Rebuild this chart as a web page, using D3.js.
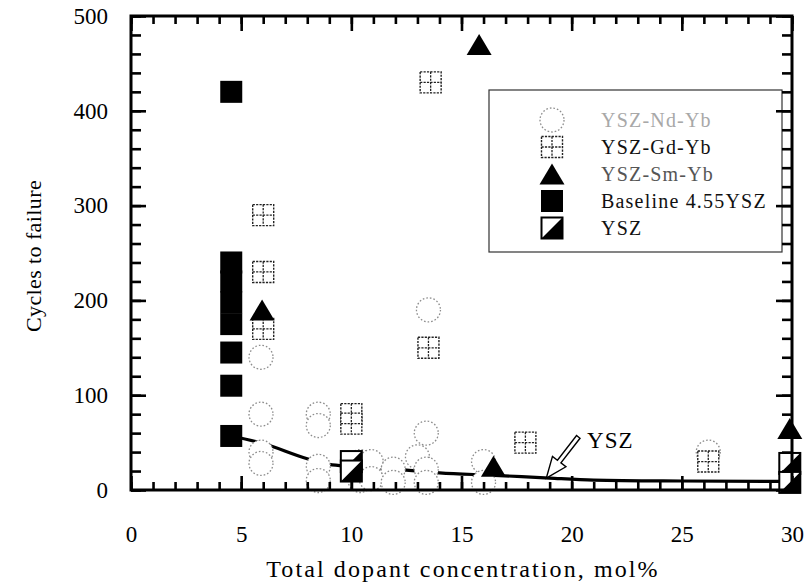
<!DOCTYPE html>
<html>
<head>
<meta charset="utf-8">
<script src="https://cdn.jsdelivr.net/npm/d3@7"></script>
<style>
  html, body { margin: 0; padding: 0; background: #fff; }
  svg { display: block; }
  text { font-family: "Liberation Serif", "Times New Roman", serif; }
</style>
</head>
<body>
<svg id="chart" width="806" height="588"></svg>
<script>
// Thermal cycling life vs. total dopant concentration
const xTicks = [0, 5, 10, 15, 20, 25, 30];
const yTicks = [0, 100, 200, 300, 400, 500];

// [dopant mol%, cycles to failure]
const ndYb = [[5.9,140],[5.9,80],[5.9,40],[5.9,28],[8.5,80],[8.5,68],[8.5,25],[8.5,10],
              [10.4,30],[10.4,10],[10.9,30],[10.9,12],[11.9,22],[11.9,8],[13.0,35],
              [13.4,60],[13.4,22],[13.4,8],[13.5,190],[16.0,30],[16.0,8],[26.2,40]];
const gdYb = [[6.0,290],[6.0,230],[6.0,170],[13.6,430],[13.5,150],[10.0,80],[10.0,70],
              [17.9,50],[26.2,30]];
const smYb = [[15.8,470],[5.95,190],[16.45,25],[29.9,65]];
const baseline = [[4.55,420],[4.55,240],[4.55,220],[4.55,198],[4.55,175],[4.55,145],
                  [4.55,110],[4.55,57]];
const ysz = [[10.0,30],[10.0,20],[29.9,28],[29.9,8]];
// YSZ trend curve
const yszTrend = [[4.55,57],[6,49],[8,33],[9,27],[10,25],[12,22],[14,18],[16.5,15.5],
                  [19,12.5],[21,10.5],[25,9.5],[30,9]];
// arrow annotation: label anchor, tail, tip
const yszNote = {label: "YSZ", at: [20.7, 44], tail: [20.3, 56], tip: [18.85, 12.5]};

const legendItems = [
  {name: "YSZ-Nd-Yb", kind: "circle", color: "#a8a8a8"},
  {name: "YSZ-Gd-Yb", kind: "grid", color: "#111"},
  {name: "YSZ-Sm-Yb", kind: "triangle", color: "#555"},
  {name: "Baseline 4.55YSZ", kind: "square", color: "#111"},
  {name: "YSZ", kind: "half", color: "#111"}
];

const svg = d3.select("#chart");
const x = d3.scaleLinear().domain([0, 30]).range([131, 792]);
const y = d3.scaleLinear().domain([0, 500]).range([490, 16]);

// ---------- marker drawing helpers ----------
function drawCircle(g, cx, cy) {
  g.append("circle").attr("cx", cx).attr("cy", cy).attr("r", 12)
    .attr("fill", "#fff").attr("stroke", "#8c8c8c").attr("stroke-width", 1.3)
    .attr("stroke-dasharray", "1.6 2");
}
function drawGrid(g, cx, cy) {
  const s = 10.5;
  g.append("rect").attr("x", cx - s).attr("y", cy - s).attr("width", 2*s).attr("height", 2*s)
    .attr("fill", "#fff").attr("stroke", "#222").attr("stroke-width", 1.4)
    .attr("stroke-dasharray", "2.2 1.2");
  g.append("line").attr("x1", cx - s).attr("x2", cx + s).attr("y1", cy).attr("y2", cy)
    .attr("stroke", "#222").attr("stroke-width", 1.3).attr("stroke-dasharray", "2.2 1.2");
  g.append("line").attr("x1", cx).attr("x2", cx).attr("y1", cy - s).attr("y2", cy + s)
    .attr("stroke", "#222").attr("stroke-width", 1.3).attr("stroke-dasharray", "2.2 1.2");
}
function drawTriangle(g, cx, cy) {
  const w = 12.5, h = 10.5;
  g.append("path").attr("d", `M${cx},${cy - h}L${cx + w},${cy + h}L${cx - w},${cy + h}Z`)
    .attr("fill", "#000");
}
function drawSquare(g, cx, cy) {
  const s = 11;
  g.append("rect").attr("x", cx - s).attr("y", cy - s).attr("width", 2*s).attr("height", 2*s)
    .attr("fill", "#000");
}
function drawHalf(g, cx, cy) {
  const s = 10.5;
  g.append("rect").attr("x", cx - s).attr("y", cy - s).attr("width", 2*s).attr("height", 2*s)
    .attr("fill", "#fff").attr("stroke", "#000").attr("stroke-width", 2);
  g.append("path").attr("d", `M${cx - s},${cy + s}L${cx + s},${cy - s}L${cx + s},${cy + s}Z`)
    .attr("fill", "#000");
}
const drawers = {circle: drawCircle, grid: drawGrid, triangle: drawTriangle, square: drawSquare, half: drawHalf};

// ---------- trend curve ----------
svg.append("path")
  .datum(yszTrend)
  .attr("d", d3.line().x(d => x(d[0])).y(d => y(d[1])).curve(d3.curveMonotoneX))
  .attr("fill", "none").attr("stroke", "#000").attr("stroke-width", 3.2);

// ---------- data markers ----------
const marks = svg.append("g");
ndYb.forEach(d => drawCircle(marks, x(d[0]), y(d[1])));
gdYb.forEach(d => drawGrid(marks, x(d[0]), y(d[1])));
smYb.forEach(d => drawTriangle(marks, x(d[0]), y(d[1])));
baseline.forEach(d => drawSquare(marks, x(d[0]), y(d[1])));
ysz.forEach(d => drawHalf(marks, x(d[0]), y(d[1])));

// ---------- legend ----------
const lg = svg.append("g");
lg.append("rect").attr("x", 489).attr("y", 90).attr("width", 293).attr("height", 162)
  .attr("fill", "#fff").attr("stroke", "#333").attr("stroke-width", 1.2);
legendItems.forEach((it, i) => {
  const cy = 120 + i * 27;
  drawers[it.kind](lg, 552, cy);
  lg.append("text").attr("x", 601).attr("y", cy).attr("dy", "0.35em")
    .attr("font-size", 20).attr("letter-spacing", 1.2).attr("fill", it.color).text(it.name);
});

// ---------- axes (ticks pointing inward on all four sides) ----------
function axisStyle(g) {
  g.select(".domain").remove();
  g.selectAll(".tick line").attr("stroke", "#000").attr("stroke-width", 2.6);
  g.selectAll("text").attr("font-family", "Liberation Serif, serif").attr("font-size", 23).attr("fill", "#000");
}
const xMinor = d3.range(0, 31, 1);
const yMinor = d3.range(0, 501, 20);

svg.append("g").attr("transform", "translate(0,490)")
  .call(d3.axisBottom(x).tickValues(xMinor).tickSize(-8).tickFormat(""))
  .call(axisStyle);
svg.append("g").attr("transform", "translate(0,490)")
  .call(d3.axisBottom(x).tickValues(xTicks).tickSize(-14).tickPadding(36).tickFormat(d3.format("d")))
  .call(axisStyle);
svg.append("g").attr("transform", "translate(0,16)")
  .call(d3.axisTop(x).tickValues(xMinor).tickSize(-8).tickFormat(""))
  .call(axisStyle);
svg.append("g").attr("transform", "translate(0,16)")
  .call(d3.axisTop(x).tickValues(xTicks).tickSize(-15).tickFormat(""))
  .call(axisStyle);
svg.append("g").attr("transform", "translate(131,0)")
  .call(d3.axisLeft(y).tickValues(yMinor).tickSize(-10).tickFormat(""))
  .call(axisStyle);
svg.append("g").attr("transform", "translate(131,0)")
  .call(d3.axisLeft(y).tickValues(yTicks).tickSize(-15).tickPadding(23).tickFormat(d3.format("d")))
  .call(axisStyle);
svg.append("g").attr("transform", "translate(792,0)")
  .call(d3.axisRight(y).tickValues(yMinor).tickSize(-10).tickFormat(""))
  .call(axisStyle);
svg.append("g").attr("transform", "translate(792,0)")
  .call(d3.axisRight(y).tickValues(yTicks).tickSize(-16).tickFormat(""))
  .call(axisStyle);

// frame
svg.append("rect").attr("x", x(0)).attr("y", y(500))
  .attr("width", x(30) - x(0)).attr("height", y(0) - y(500))
  .attr("fill", "none").attr("stroke", "#000").attr("stroke-width", 3);

// ---------- annotation arrow ----------
(function () {
  const T = [x(yszNote.tip[0]), y(yszNote.tip[1])];
  const S = [x(yszNote.tail[0]), y(yszNote.tail[1])];
  const len = Math.hypot(S[0] - T[0], S[1] - T[1]);
  const u = [(S[0] - T[0]) / len, (S[1] - T[1]) / len];
  const n = [-u[1], u[0]];
  const hl = 21, hw = 8.5, sw = 2.2;
  const B = [T[0] + u[0] * hl, T[1] + u[1] * hl];
  const p = (P, a, b) => [P[0] + n[0] * a + u[0] * b, P[1] + n[1] * a + u[1] * b];
  const pts = [T, p(B, hw, 0), p(B, sw, 0), p(S, sw, 0), p(S, -sw, 0), p(B, -sw, 0), p(B, -hw, 0)];
  svg.append("path").attr("d", "M" + pts.map(q => q.join(",")).join("L") + "Z")
    .attr("fill", "#fff").attr("stroke", "#000").attr("stroke-width", 1.4).attr("stroke-linejoin", "miter");
  svg.append("text").attr("x", x(yszNote.at[0])).attr("y", y(yszNote.at[1]))
    .attr("font-size", 23).attr("letter-spacing", 1).text(yszNote.label);
})();

// ---------- axis titles ----------
svg.append("text").attr("x", 463).attr("y", 577).attr("text-anchor", "middle")
  .attr("font-size", 24).attr("letter-spacing", 2.1).text("Total dopant concentration, mol%");
svg.append("text").attr("transform", "translate(41,256) rotate(-90)").attr("text-anchor", "middle")
  .attr("font-size", 22).attr("letter-spacing", 0.4).text("Cycles to failure");
</script>
</body>
</html>
